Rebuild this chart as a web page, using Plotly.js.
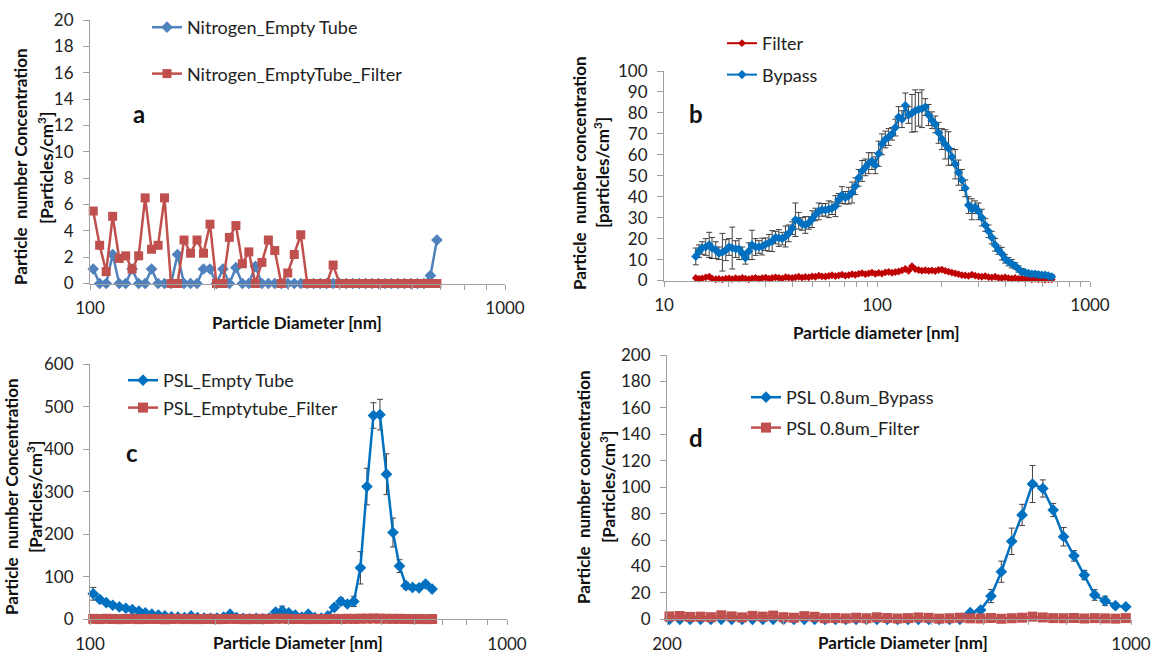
<!DOCTYPE html>
<html><head><meta charset="utf-8">
<script src="https://cdn.plot.ly/plotly-3.0.1.min.js"></script>
<style>html,body{margin:0;padding:0;background:#fff;}#chart{width:1153px;height:654px;}</style>
</head><body><div id="chart"></div>
<script>
// ---------------- DATA ----------------
// Panel a : Nitrogen
const diamA = [101.8,105.5,109.4,113.4,117.6,121.9,126.3,131.0,135.8,140.7,145.9,151.2,156.8,162.5,168.5,174.7,181.1,187.7,194.6,201.7,209.1,216.7,224.7,232.9,241.4,250.3,259.5,269.0,278.8,289.0,299.6,310.6,322.0,333.8,346.0,358.7,371.8,385.4,399.5,414.2,429.4,445.1,461.4,478.3,495.8,514.0,532.8,552.3,572.5,593.5,615.3,637.8,661.2,685.4];
const nitrogenEmptyTube = [1.1,0,0,2.2,0,0,1.1,0,0,1.1,0,0,0,2.2,0,0,0,1.1,1.1,0,1.1,0,1.2,0,0,1.3,0,0,0,0,0,0,0,0,0,0,0,0,0,0,0,0,0,0,0,0,0,0,0,0,0,0,0.6,3.3];
const nitrogenEmptyTubeFilter = [5.5,2.9,0.9,5.1,1.9,2.1,1.1,2.1,6.5,2.6,2.9,6.5,0,0,3.3,2.3,3.3,2.3,4.5,0,0,3.5,4.4,1.5,2.4,0,1.6,3.3,2.5,0,0.8,2.2,3.7,0,0,0,0,1.4,0,0,0,0,0,0,0,0,0,0,0,0,0,0,0,0];

// Panel b : Filter / Bypass
const diamB = [14.1,14.6,15.1,15.7,16.3,16.8,17.5,18.1,18.8,19.5,20.2,20.9,21.7,22.5,23.3,24.1,25.0,25.9,26.9,27.9,28.9,30.0,31.1,32.2,33.4,34.6,35.9,37.2,38.5,40.0,41.4,42.9,44.5,46.1,47.8,49.6,51.4,53.3,55.2,57.3,59.4,61.5,63.8,66.1,68.5,71.0,73.7,76.4,79.1,82.0,85.1,88.2,91.4,94.7,98.2,101.8,105.5,109.4,113.4,117.6,121.9,126.3,131.0,135.8,140.7,145.9,151.2,156.8,162.5,168.5,174.7,181.1,187.7,194.6,201.7,209.1,216.7,224.7,232.9,241.4,250.3,259.5,269.0,278.8,289.0,299.6,310.6,322.0,333.8,346.0,358.7,371.8,385.4,399.5,414.2,429.4,445.1,461.4,478.3,495.8,514.0,532.8,552.3,572.5,593.5,615.3,637.8,661.2];
const filterB = [1.2,0.8,1.0,1.5,1.8,1.0,0.6,0.8,0.5,0.9,
 1.0,0.7,1.1,0.8,1.2,0.9,0.6,1.0,1.3,0.8,
 1.1,1.4,0.9,1.2,1.5,1.3,1.0,1.6,1.4,1.2,
 1.5,1.8,1.4,1.7,1.5,2.0,1.8,2.3,2.0,1.9,
 2.2,2.5,2.1,2.4,2.8,2.3,2.6,3.0,2.7,3.2,
 3.5,3.0,3.4,3.8,3.2,3.6,3.3,3.9,4.1,3.7,
 4.0,4.3,4.8,5.5,4.6,6.8,5.4,5.0,4.7,4.9,
 4.6,4.8,4.5,5.0,5.2,4.6,4.2,3.8,3.4,3.0,
 2.6,2.4,2.2,2.8,2.3,2.0,1.8,2.1,1.6,1.5,
 1.8,1.3,1.2,1.5,1.1,0.9,1.2,0.8,1.0,0.7,
 0.9,0.6,0.8,0.5,0.7,0.4,0.6,0.5];
const bypassB = [11.5,14,15.5,16,17,15.5,14.5,13,13.5,14.5,
 16,15.5,15,15,13,10.8,14,17,16,16,
 16.2,17.3,18,18.8,20.5,20.3,20,21,22.5,25,
 29,28.5,27,26.5,27.5,29.3,31.5,33,33.7,33.7,
 34,34.5,35.5,38.5,40.8,39.5,40.5,42,45,49,
 52.3,54,56,57,55,60.5,65,67.3,68.5,70,
 73,78,77,83.5,79,79.8,81,81.7,82,82.8,
 79,76.5,74.5,70.5,67.5,65,63,59,55.5,51.5,
 48,44,36,34,35,33,30,26.5,23.5,20.5,
 17,14.5,12.8,10.3,9,8,7,5.5,4.2,3.8,
 3.4,3.1,3.1,2.8,2.6,2.6,2.2,1.8];
const bypassBErr = [4,3,3,4,6,5,4,3,9,5,
 4,10,4,5,3,3,4,7,4,3,
 4,3,4,5,3,4,3,5,4,3,
 8,4,3,4,3,4,3,4,3,3,
 4,3,5,3,4,3,4,5,4,4,
 5,4,5,4,4,6,5,4,4,3,
 4,5,4,6,4,9,10,8,9,4,
 5,4,4,5,5,7,8,4,7,6,
 5,4,4,5,3,4,4,3,3,3,
 3,2,3,2,2,2,1.5,1.5,1.5,1,
 1,1,1,1,1,1,1,1];

// Panel c : PSL empty tube
const diamC = [101.8,105.5,109.4,113.4,117.6,121.9,126.3,131.0,135.8,140.7,145.9,151.2,156.8,162.5,168.5,174.7,181.1,187.7,194.6,201.7,209.1,216.7,224.7,232.9,241.4,250.3,259.5,269.0,278.8,289.0,299.6,310.6,322.0,333.8,346.0,358.7,371.8,385.4,399.5,414.2,429.4,445.1,461.4,478.3,495.8,514.0,532.8,552.3,572.5,593.5,615.3,637.8,661.2];
const pslEmptyTube = [60,47,39,33,29,26,23,19,15,12,
 10,8,6,5,4,8,4,3,2,3,
 5,12,4,2,1,2,1,3,17,20,
 15,10,5,12,4,3,8,28,42,36,
 42,121,312,479,481,341,204,125,79,75,
 74,83,71];
const pslEmptyTubeErr = [15,5,4,4,3,3,3,3,2,2,
 2,2,2,2,2,2,2,2,1,1,
 2,3,2,1,1,1,1,2,6,11,
 5,3,2,3,2,2,3,6,8,5,
 12,38,43,30,36,48,34,15,8,6,
 6,6,5];
const pslEmptyTubeFilter = [1.0,0.5,1.2,0.8,0.3,0.9,1.1,0.4,0.7,1.0,
 0.6,0.2,0.8,1.1,0.5,0.9,0.4,0.7,1.2,0.3,
 0.6,1.0,0.8,0.4,0.9,0.5,1.1,0.7,1.3,1.5,
 1.0,0.6,0.8,0.4,0.9,0.5,0.7,1.0,0.8,1.2,
 0.9,1.4,1.6,1.8,1.5,1.2,1.0,1.1,0.7,0.5,
 0.8,0.4,0.6];

// Panel d : PSL 0.8 um
const diamD = [201.7,209.1,216.7,224.7,232.9,241.4,250.3,259.5,269.0,278.8,289.0,299.6,310.6,322.0,333.8,346.0,358.7,371.8,385.4,399.5,414.2,429.4,445.1,461.4,478.3,495.8,514.0,532.8,552.3,572.5,593.5,615.3,637.8,661.2,685.4,710.5,736.5,763.5,791.5,820.5,850.5,881.7,914.0,947.5,982.2];
const psl08Bypass = [0,0,0,0,0,0,0,0,0,0,
 0,0,0,0,0,0,0,0,0,0,
 0,0,0,0,0,0,0,0,0,5,
 7,17.6,36,59,79,102.4,99,82.7,62.5,48,
 33.5,18.4,14,10.3,9.5];
const psl08BypassErr = [0,0,0,0,0,0,0,0,0,0,
 0,0,0,0,0,0,0,0,0,0,
 0,0,0,0,0,0,0,0,0,1,
 1.5,5,8,10,8,14,6.5,5,7,4,
 3.5,4,3.5,2,1.5];
const psl08Filter = [2.2,2.5,1.8,2.0,1.6,3.0,2.2,1.5,2.6,2.0,
 2.8,1.6,1.2,2.4,1.9,0.8,1.0,0.7,1.2,0.8,
 1.5,1.0,0.6,0.9,1.4,1.1,0.5,0.8,1.2,0.7,
 0.6,1.0,0.4,0.8,1.2,2.0,1.4,0.9,0.8,1.0,
 0.6,0.9,0.7,0.5,0.9];

// tick values (labelled) and minor tick values (unlabelled)
const ticksA = [100, 1000];
const minorA = [200,300,400,500,600,700,800,900];
const ticksB = [10, 100, 1000];
const minorB = [20,30,40,50,60,70,80,90,200,300,400,500,600,700,800,900];
const ticksD = [200, 1000];
const minorD = [300,400,500,600,700,800,900];

// ---------------- LAYOUT HELPERS ----------------
const W = 1153, H = 654;
const F = 'Lato, "Open Sans", sans-serif';
const px = p => p / W;
const py = p => 1 - p / H;
const AX = '#A0A0A0';
const tickFont = {family: F, size: 17, color: '#222'};
function xax(range, dom, anchor, tv, mv) {
  return {type: 'log', range: range, domain: dom, anchor: anchor, tickmode: 'array', tickvals: tv,
    ticktext: tv.map(String),
    minor: {tickmode: 'array', tickvals: mv, ticks: 'outside', ticklen: 5, tickcolor: AX, tickwidth: 1, showgrid: false},
    showline: true, linecolor: AX, linewidth: 1, ticks: 'outside', ticklen: 5, tickcolor: AX,
    showgrid: false, zeroline: false, tickfont: tickFont, ticklabelstandoff: 4, ticklabeloverflow: 'allow',
    fixedrange: true};
}
function yax(range, dtick, dom, anchor) {
  return {range: range, dtick: dtick, domain: dom, anchor: anchor, showline: true, linecolor: AX, linewidth: 1,
    ticks: 'outside', ticklen: 6, tickcolor: AX, showgrid: false, zeroline: false, tickfont: tickFont,
    ticklabelstandoff: 6, fixedrange: true};
}
const titleFont = {family: F, size: 17, color: '#111'};
function ann(text, x, y, o) {
  return Object.assign({text: text, x: px(x), y: py(y), xref: 'paper', yref: 'paper', showarrow: false,
    xanchor: 'center', yanchor: 'middle', font: titleFont}, o || {});
}
const letterFont = {family: F, size: 24, color: '#111'};
const errStyle = arr => ({type: 'data', array: arr, visible: true, color: '#404040', thickness: 1, width: 3});

// ---------------- TRACES ----------------
const traces = [
  {x: diamA, y: nitrogenEmptyTube, name: 'Nitrogen_Empty Tube', xaxis: 'x', yaxis: 'y', mode: 'lines+markers', cliponaxis: false,
   line: {color: '#4F81BD', width: 2.5}, marker: {symbol: 'diamond', size: 9, color: '#4F81BD'}, legend: 'legend', legendgroup: 'a1'},
  {x: diamA, y: nitrogenEmptyTubeFilter, name: 'Nitrogen_EmptyTube_Filter', xaxis: 'x', yaxis: 'y', mode: 'lines+markers', cliponaxis: false,
   line: {color: '#C0504D', width: 2.5}, marker: {symbol: 'square', size: 9, color: '#C0504D'}, legend: 'legend', legendgroup: 'a2'},

  {x: diamB, y: filterB, name: 'Filter', xaxis: 'x2', yaxis: 'y2', mode: 'lines+markers', cliponaxis: false,
   line: {color: '#C00000', width: 2}, marker: {symbol: 'diamond', size: 6, color: '#C00000'}, legend: 'legend2', legendgroup: 'b1'},
  {x: diamB, y: bypassB, name: 'Bypass', xaxis: 'x2', yaxis: 'y2', mode: 'lines+markers', cliponaxis: false, error_y: errStyle(bypassBErr),
   line: {color: '#0070C0', width: 2}, marker: {symbol: 'diamond', size: 7, color: '#0070C0'}, legend: 'legend2', legendgroup: 'b2'},

  {x: diamC, y: pslEmptyTube, name: 'PSL_Empty Tube', xaxis: 'x3', yaxis: 'y3', mode: 'lines+markers', cliponaxis: false, error_y: errStyle(pslEmptyTubeErr),
   line: {color: '#0070C0', width: 2.5}, marker: {symbol: 'diamond', size: 9, color: '#0070C0'}, legend: 'legend3', legendgroup: 'c1'},
  {x: diamC, y: pslEmptyTubeFilter, name: 'PSL_Emptytube_Filter', xaxis: 'x3', yaxis: 'y3', mode: 'lines+markers', cliponaxis: false,
   line: {color: '#C0504D', width: 2.5}, marker: {symbol: 'square', size: 10, color: '#C0504D'}, legend: 'legend3', legendgroup: 'c2'},

  {x: diamD, y: psl08Bypass, name: 'PSL 0.8um_Bypass', xaxis: 'x4', yaxis: 'y4', mode: 'lines+markers', cliponaxis: false, error_y: errStyle(psl08BypassErr),
   line: {color: '#0070C0', width: 2.5}, marker: {symbol: 'diamond', size: 9, color: '#0070C0'}, legend: 'legend4', legendgroup: 'd1'},
  {x: diamD, y: psl08Filter, name: 'PSL 0.8um_Filter', xaxis: 'x4', yaxis: 'y4', mode: 'lines+markers', cliponaxis: false,
   line: {color: '#C0504D', width: 2.5}, marker: {symbol: 'square', size: 10, color: '#C0504D'}, legend: 'legend4', legendgroup: 'd2'}
];

const legFont = {family: F, size: 18, color: '#222'};
function leg(x, y, gap) {
  return {x: px(x), y: py(y), xanchor: 'left', yanchor: 'top', font: legFont, bgcolor: 'rgba(0,0,0,0)',
    borderwidth: 0, tracegroupgap: gap, itemclick: false, itemdoubleclick: false};
}
const bold = t => '<b>' + t + '</b>';

const layout = {
  width: W, height: H, autosize: false, margin: {l: 0, r: 0, t: 0, b: 0},
  paper_bgcolor: '#fff', plot_bgcolor: 'rgba(0,0,0,0)', font: {family: F, color: '#222'},
  xaxis: xax([2, 3], [px(90), px(505)], 'y', ticksA, minorA),
  yaxis: yax([0, 20], 2, [py(283.5), py(20)], 'x'),
  xaxis2: xax([1, 3], [px(664), px(1090)], 'y2', ticksB, minorB),
  yaxis2: yax([0, 100], 10, [py(280.5), py(71)], 'x2'),
  xaxis3: xax([2, 3], [px(90), px(507)], 'y3', ticksA, minorA),
  yaxis3: yax([0, 600], 100, [py(619.3), py(364)], 'x3'),
  xaxis4: xax([Math.log10(200), 3], [px(667), px(1131)], 'y4', ticksD, minorD),
  yaxis4: yax([0, 200], 20, [py(619.3), py(355)], 'x4'),
  legend: leg(147, 9, 20),
  legend2: leg(722, 25, 5),
  legend3: leg(123, 362, 1),
  legend4: leg(746, 379, 4),
  annotations: [
    ann(bold('Particle  number Concentration'), 20, 167, {textangle: -90}),
    ann(bold('[Particles/cm<sup>3</sup>]'), 45, 168, {textangle: -90}),
    ann(bold('Particle Diameter [nm]'), 297, 322),
    ann(bold('a'), 139, 113, {font: letterFont}),

    ann(bold('Particle  number concentration'), 579, 173, {textangle: -90}),
    ann(bold('[particles/cm<sup>3</sup>]'), 601, 173, {textangle: -90}),
    ann(bold('Particle diameter [nm]'), 876, 332),
    ann(bold('b'), 696, 113, {font: letterFont}),

    ann(bold('Particle  number Concentration'), 11, 497, {textangle: -90}),
    ann(bold('[Particles/cm<sup>3</sup>]'), 34, 497, {textangle: -90}),
    ann(bold('Particle Diameter [nm]'), 298, 642),
    ann(bold('c'), 132, 452, {font: letterFont}),

    ann(bold('Particle  number concentration'), 583, 487, {textangle: -90}),
    ann(bold('[Particles/cm<sup>3</sup>]'), 607, 487, {textangle: -90}),
    ann(bold('Particle Diameter [nm]'), 903, 642),
    ann(bold('d'), 696, 437, {font: letterFont})
  ]
};

Plotly.newPlot('chart', traces, layout, {displayModeBar: false, staticPlot: true});
</script>
</body></html>
